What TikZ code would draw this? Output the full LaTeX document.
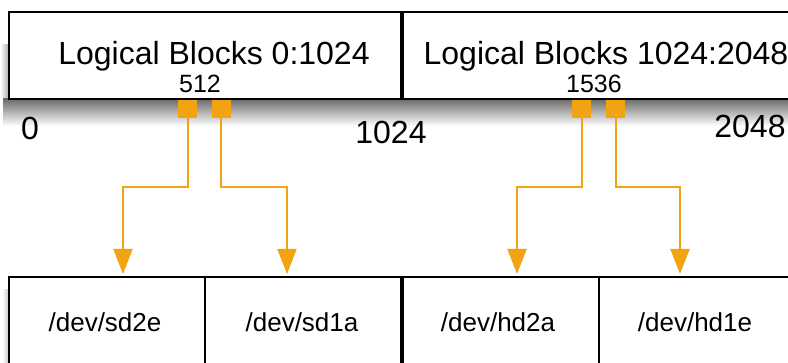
\documentclass[tikz,border=0pt]{standalone}
\usepackage{fontspec}
\setmainfont{Liberation Sans}
\usetikzlibrary{arrows.meta,positioning}
\definecolor{feedorange}{RGB}{242,163,18}

\begin{document}
\begin{tikzpicture}[x=1pt,y=-1pt,>={Triangle[width=19pt,length=25pt]},
    block/.style={draw,line width=2pt,fill=white,minimum width=#1,minimum height=87pt,inner sep=0pt,anchor=north west},
    disk/.style={draw,line width=2pt,fill=white,minimum width=196pt,minimum height=120pt,inner sep=0pt,anchor=north west},
    tap/.style={fill=feedorange,minimum width=19pt,minimum height=18pt,inner sep=0pt},
    feed/.style={draw=feedorange,line width=2pt,->},
    big/.style={font=\fontsize{32}{36}\selectfont,inner sep=0pt,anchor=base},
    small/.style={font=\fontsize{25}{28}\selectfont,inner sep=0pt,anchor=base},
    dev/.style={font=\fontsize{26}{30}\selectfont,inner sep=0pt,anchor=base}]
    \useasboundingbox (0,0) rectangle (788,363);
    \clip (0,0) rectangle (788,363);

    % Logical blocks (top row) with shadow
    \shade[top color=black!60, bottom color=white] (3,98) rectangle (791,126);
    \shade[left color=white, right color=black!30] (0,45) rectangle (8,98);
    \node[block=392pt] (lb0) at (8,11) {};
    \node[block=389pt] (lb1) at (402,11) {};
    \node[big] (lb0-text) at (214,65) {Logical Blocks 0:1024};
    \node[big] (lb1-text) at (606,65) {Logical Blocks 1024:2048};
    \node[small] (mid0) at (200,93) {512};
    \node[small] (mid1) at (594,93) {1536};

    % Block numbers
    \node[big] (n0) at (30,140) {0};
    \node[big] (n1024) at (391,144) {1024};
    \node[big] (n2048) at (750,138) {2048};

    % Taps
    \node[tap] (p0a) at (187.5,109) {};
    \node[tap] (p0b) at (221,109) {};
    \node[tap] (p1a) at (581.5,109) {};
    \node[tap] (p1b) at (615.5,109) {};

    % Devices (bottom row)
    \shade[left color=white, right color=black!20] (2,290) rectangle (8,363);
    \node[disk] (sd2e) at (8,276) {};
    \node[disk] (sd1a) at (204,276) {};
    \node[disk] (hd2a) at (402,276) {};
    \node[disk] (hd1e) at (598,276) {};
    \node[dev] (sd2e-text) at (105,332) {/dev/sd2e};
    \node[dev] (sd1a-text) at (302,332) {/dev/sd1a};
    \node[dev] (hd2a-text) at (498,332) {/dev/hd2a};
    \node[dev] (hd1e-text) at (695,332) {/dev/hd1e};

    \coordinate (in-sd2e) at (123,274);
    \coordinate (in-sd1a) at (287,274);
    \coordinate (in-hd2a) at (517,274);
    \coordinate (in-hd1e) at (680,274);

    % Connectors
    \draw[feed] (p0a.south) -- ++(0,69) -| (in-sd2e);
    \draw[feed] (p0b.south) -- ++(0,69) -| (in-sd1a);
    \draw[feed] (p1a.south) -- ++(0,69) -| (in-hd2a);
    \draw[feed] (p1b.south) -- ++(0,69) -| (in-hd1e);
\end{tikzpicture}
\end{document}
